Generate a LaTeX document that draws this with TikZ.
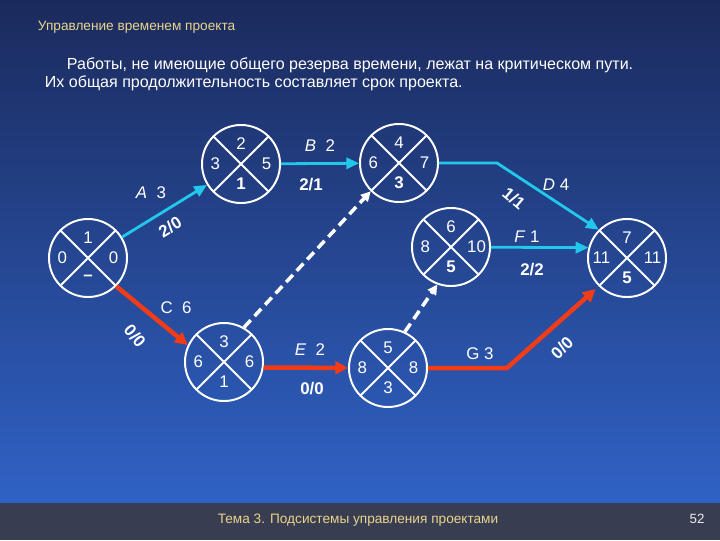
\documentclass[tikz,border=0pt]{standalone}
\usepackage{fontspec}
\setmainfont{Liberation Sans}
\usetikzlibrary{arrows.meta}
\definecolor{bgtop}{HTML}{1B2A5C}
\definecolor{bgbottom}{HTML}{2F62C6}
\definecolor{footbg}{HTML}{393D52}
\definecolor{slidetitle}{HTML}{E8D48A}
\definecolor{critred}{HTML}{F23C18}
\definecolor{workcyan}{HTML}{22C8EC}
\tikzset{
    evnum/.style={
    anchor=center,text=white,inner sep=0pt,font=\fontsize{12}{14}\selectfont
    },
    event/.style n args={4}{
    circle,draw=white,line width=1.4pt,minimum size=1.95cm,inner sep=0pt,
    path picture={\draw[white,line width=1.4pt]
      (path picture bounding box.north west) -- (path picture bounding box.south east)
      (path picture bounding box.south west) -- (path picture bounding box.north east);},
    label={[evnum,label distance=-0.36cm]180:#1},
    label={[evnum,label distance=-0.5cm]90:#2},
    label={[evnum,label distance=-0.36cm]0:#3},
    label={[evnum,label distance=-0.5cm]-90:#4}
    },
    cyanwork/.style={
    color=workcyan,line width=2pt,->,>={Triangle[length=9pt,width=8pt]}
    },
    critwork/.style={
    color=critred,line width=3.2pt,->,>={Triangle[length=9pt,width=9pt]}
    },
    dummywork/.style={
    color=white,line width=2.5pt,dash pattern=on 7pt off 4pt,->,>={Triangle[length=7pt,width=7pt]}
    },
    worklabel/.style={
    text=white,font=\fontsize{12}{14}\selectfont
    },
    slacklabel/.style={
    text=white,font=\bfseries\fontsize{12}{14}\selectfont
    },
}
\begin{document}
\begin{tikzpicture}[x=0.025cm, y=-0.025cm]
  \useasboundingbox (0,0) rectangle (720,540);
  \fill[top color=bgtop,bottom color=bgbottom] (0,0) rectangle (720,503);
  \fill[footbg] (0,503) rectangle (720,540);

  \node[anchor=west,text=slidetitle,font=\fontsize{9.7}{11}\selectfont] (title) at (33,27) {Управление временем проекта};
  \node[anchor=west,text=white,font=\fontsize{11.4}{13}\selectfont] (line1) at (62,65) {Работы, не имеющие общего резерва времени, лежат на критическом пути.};
  \node[anchor=west,text=white,font=\fontsize{11.4}{13}\selectfont] (line2) at (40,83) {Их общая продолжительность составляет срок проекта.};

  % events
  \node[event={0}{1}{0}{\textbf{--}}] (e1) at (88,258) {};
  \node[event={3}{2}{5}{\textbf{1}}] (e2) at (241,164) {};
  \node[event={6}{4}{7}{\textbf{3}}] (e3) at (399,163) {};
  \node[event={8}{6}{10}{\textbf{5}}] (e4) at (451,247) {};
  \node[event={11}{7}{11}{\textbf{5}}] (e5) at (627,258) {};
  \node[event={6}{3}{6}{1}] (e6) at (224,362) {};
  \node[event={8}{5}{8}{3}] (e7) at (388,368) {};

  \coordinate (dbend) at (497,163);
  \coordinate (gbend) at (507,368);

  % works
  \path[cyanwork]
    (e1) edge (e2)
    (e2) edge (e3)
    (e4) edge (e5.165);
  \draw[cyanwork] (e3) -- (dbend) -- (e5.north west);
  \draw[critwork] (e1.south east) -- (e6.155);
  \draw[critwork] (e6.-8) -- (e7);
  \draw[critwork, shorten >=3pt] (e7) -- (gbend) -- (e5.south west);
  \draw[dummywork] (e6.60) -- (e3.south west);
  \draw[dummywork] (e7.65) -- (e4.250);

  % work labels
  \node[worklabel] (la) at (151,193) {\textit{A}\ \ 3};
  \node[slacklabel,rotate=31] (sa) at (170,227) {2/0};
  \node[worklabel] (lb) at (320,146) {\textit{B}\ \ 2};
  \node[slacklabel] (sb) at (311,185) {2/1};
  \node[worklabel] (ld) at (556,185) {\textit{D} 4};
  \node[slacklabel,rotate=-40] (sd) at (514,198) {1/1};
  \node[worklabel] (lf) at (527,237) {\textit{F} 1};
  \node[slacklabel] (sf) at (532,270) {2/2};
  \node[worklabel] (lc) at (176,308) {C\ \ 6};
  \node[slacklabel,rotate=-50] (sc) at (135,336) {0/0};
  \node[worklabel] (le) at (310,350) {\textit{E}\ \ 2};
  \node[slacklabel] (se) at (312,389) {0/0};
  \node[worklabel] (lg) at (480,354) {G 3};
  \node[slacklabel,rotate=45] (sg) at (562,348) {0/0};

  \node[text=slidetitle,font=\fontsize{9.7}{11}\selectfont] (footer) at (358,520) {Тема 3. Подсистемы управления проектами};
  \node[text=white!85!gray,font=\fontsize{9.5}{11}\selectfont] (pagenum) at (697,519) {52};
\end{tikzpicture}
\end{document}
